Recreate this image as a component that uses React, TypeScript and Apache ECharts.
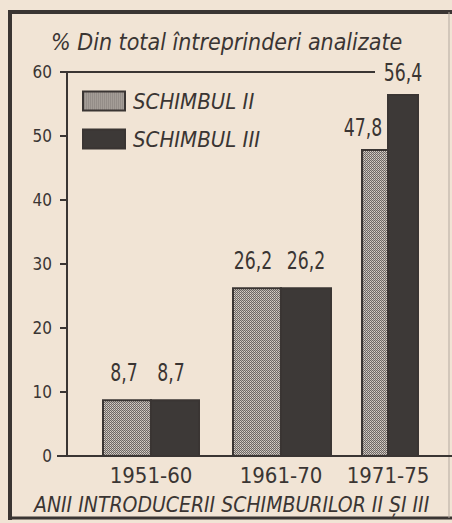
import React, { useEffect, useRef } from 'react';
import * as echarts from 'echarts';

// ---- data ----
const categories = ['1951-60', '1961-70', '1971-75'];
const schimbulII = [8.7, 26.2, 47.8];
const schimbulIII = [8.7, 26.2, 56.4];
const yTickLabels = ['0', '10', '20', '30', '40', '50', '60'];
const seriesNames = ['SCHIMBUL II', 'SCHIMBUL III'];
const titleText = '% Din total întreprinderi analizate';
const xAxisTitle = 'ANII INTRODUCERII SCHIMBURILOR II ȘI III';

// ---- layout / style ----
const PAPER = '#f1e4d5';
const INK = '#3a3533';
const DARK = '#3d3937';
const FONT = '"DejaVu Sans Condensed", "DejaVu Sans", sans-serif';
const GRID_LEFT = 95;
const GRID_TOP = 72;
const GRID_W = 363;
const GRID_H = 384;
const Y_AXIS_X = 67;
const barWidthII = [48, 48, 26];
const barWidthIII = [48, 50, 30];
const groupNudge = [-3.5, 7.5, -4.5];
const labelGap = [28, 28, 22];
const labelShiftII = [-3, -4, -12];
const labelShiftIII = [-4, 0, 0];

const fmt = (v: number) => String(v).replace('.', ',');

function makePattern(): any {
  const c = document.createElement('canvas');
  c.width = 2;
  c.height = 2;
  const ctx = c.getContext('2d')!;
  ctx.fillStyle = '#d9d1c9';
  ctx.fillRect(0, 0, 2, 2);
  ctx.fillStyle = '#6e6865';
  ctx.fillRect(0, 0, 1, 1);
  ctx.fillRect(1, 1, 1, 1);
  ctx.fillStyle = '#b9b2ab';
  ctx.fillRect(1, 0, 1, 1);
  return { image: c, repeat: 'repeat' };
}

export default function App() {
  const ref = useRef<HTMLDivElement>(null);
  useEffect(() => {
    if (!ref.current) return;
    const chart = echarts.init(ref.current, null, { renderer: 'svg' });
    const pattern = makePattern();
    const fills = [pattern, DARK];

    const makeSeries = (k: number) => ({
      type: 'custom',
      name: seriesNames[k],
      itemStyle: { color: k === 0 ? '#b5aea8' : DARK, borderColor: INK, borderWidth: 2 },
      data: categories.map((_, i) => [i, k === 0 ? schimbulII[i] : schimbulIII[i]]),
      renderItem: (params: any, api: any) => {
        const i = api.value(0) as number;
        const v = api.value(1) as number;
        const base = api.coord([i, 0]);
        const top = api.coord([i, v]);
        const cx = base[0] + groupNudge[i];
        const w = k === 0 ? barWidthII[i] : barWidthIII[i];
        const x = k === 0 ? cx - w : cx;
        const shift = k === 0 ? labelShiftII[i] : labelShiftIII[i];
        return {
          type: 'group',
          children: [
            {
              type: 'rect',
              shape: { x, y: top[1], width: w, height: base[1] - top[1] },
              style: { fill: fills[k], stroke: INK, lineWidth: 2 },
            },
            {
              type: 'text',
              x: x + w / 2 + shift,
              y: top[1] - labelGap[i],
              scaleX: 0.8,
              style: {
                text: fmt(v),
                fill: INK,
                fontSize: 24,
                fontFamily: FONT,
                align: 'center',
                verticalAlign: 'middle',
              },
            },
          ],
        };
      },
    });

    chart.setOption({
      animation: false,
      backgroundColor: PAPER,
      title: [
        {
          text: titleText,
          left: 46,
          top: 25,
          textStyle: { fontFamily: FONT, fontSize: 23, fontStyle: 'italic', fontWeight: 'normal', color: INK },
        },
        {
          text: xAxisTitle,
          left: 29,
          top: 489,
          textStyle: { fontFamily: FONT, fontSize: 21, fontStyle: 'italic', fontWeight: 'normal', color: INK },
        },
      ],
      legend: {
        orient: 'vertical',
        left: 82,
        top: 90,
        padding: 0,
        itemWidth: 42,
        itemHeight: 19,
        itemGap: 16,
        icon: 'rect',
        data: [
          { name: seriesNames[0], itemStyle: { color: pattern, borderColor: INK, borderWidth: 2 } },
          { name: seriesNames[1], itemStyle: { color: DARK, borderColor: INK, borderWidth: 2 } },
        ],
        textStyle: { fontFamily: FONT, fontSize: 22, fontStyle: 'italic', color: INK, padding: [0, 0, 0, 3] },
      },
      grid: { left: GRID_LEFT, top: GRID_TOP, width: GRID_W, height: GRID_H, containLabel: false },
      xAxis: {
        type: 'category',
        data: categories.map((c, i) => ({
          value: c,
          textStyle: {
            padding: groupNudge[i] >= 0 ? [0, 0, 0, 2 * groupNudge[i]] : [0, -2 * groupNudge[i], 0, 0],
          },
        })),
        axisLine: { lineStyle: { color: INK, width: 2 } },
        axisTick: { show: false },
        axisLabel: { fontFamily: FONT, fontSize: 22, color: INK, margin: 8 },
      },
      yAxis: {
        type: 'value',
        min: 0,
        max: 60,
        interval: 10,
        offset: GRID_LEFT - Y_AXIS_X,
        axisLine: { show: true, lineStyle: { color: INK, width: 2 } },
        axisTick: { show: true, length: 7, lineStyle: { color: INK, width: 2 } },
        splitLine: { show: false },
        axisLabel: {
          fontFamily: FONT,
          fontSize: 17,
          color: INK,
          margin: 15,
          formatter: (v: number) => yTickLabels[Math.round(v / 10)] ?? String(v),
        },
      },
      series: [makeSeries(0), makeSeries(1)],
      graphic: [
        // frame
        { type: 'line', shape: { x1: 10, y1: 10, x2: 10, y2: 520 }, style: { stroke: INK, lineWidth: 4 } },
        { type: 'line', shape: { x1: 8, y1: 12, x2: 452, y2: 12 }, style: { stroke: INK, lineWidth: 4 } },
        { type: 'line', shape: { x1: 8, y1: 518, x2: 452, y2: 518 }, style: { stroke: INK, lineWidth: 3 } },
        { type: 'line', shape: { x1: 449, y1: 12, x2: 449, y2: 518 }, style: { stroke: '#b3a99f', lineWidth: 1 } },
        // top rule at 60 and baseline extension
        { type: 'line', shape: { x1: Y_AXIS_X, y1: GRID_TOP, x2: 375, y2: GRID_TOP }, style: { stroke: INK, lineWidth: 2 } },
        { type: 'line', shape: { x1: 57, y1: GRID_TOP + GRID_H, x2: GRID_LEFT, y2: GRID_TOP + GRID_H }, style: { stroke: INK, lineWidth: 2 } },
      ],
    });
    return () => chart.dispose();
  }, []);
  return (
    <div
      ref={ref}
      style={{ position: 'absolute', left: 0, top: 0, width: 452, height: 523, background: PAPER }}
    />
  );
}
